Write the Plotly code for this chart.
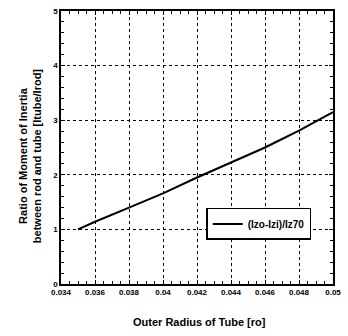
import plotly.graph_objects as go

x_vals = [0.035, 0.036, 0.038, 0.040, 0.042, 0.044, 0.046, 0.048, 0.050]
y_vals = [1.00, 1.14, 1.40, 1.66, 1.95, 2.22, 2.50, 2.81, 3.15]
series_name = "(Izo-Izi)/Iz70"
x_ticks = [0.034, 0.036, 0.038, 0.04, 0.042, 0.044, 0.046, 0.048, 0.05]
x_tick_text = ["0.034", "0.036", "0.038", "0.04", "0.042", "0.044", "0.046", "0.048", "0.05"]
y_ticks = [0, 1, 2, 3, 4, 5]

FONT = "Liberation Sans"

fig = go.Figure()
fig.add_trace(go.Scatter(x=x_vals, y=y_vals, mode="lines", name=series_name,
                         line=dict(color="black", width=2), showlegend=True))

axis_common = dict(showline=True, linecolor="black", linewidth=1.5, mirror="ticks",
                   ticks="inside", ticklen=4, tickcolor="black", tickwidth=1,
                   showgrid=True, gridcolor="black", griddash="dot", gridwidth=1,
                   zeroline=False,
                   tickfont=dict(family=FONT, size=8, color="black", weight="bold"))

fig.update_layout(
    width=348, height=336,
    margin=dict(l=61, r=7, t=8, b=52),
    paper_bgcolor="white", plot_bgcolor="white",
    xaxis=dict(range=[0.034, 0.05], tickvals=x_ticks, ticktext=x_tick_text,
               minor=dict(ticks="inside", ticklen=3, tickcolor="black", dtick=0.0005, showgrid=False),
               **axis_common),
    yaxis=dict(range=[0, 5], tickvals=y_ticks,
               minor=dict(ticks="inside", ticklen=3, tickcolor="black", dtick=0.2, showgrid=False),
               **axis_common),
    legend=dict(x=0.534, y=0.22, xanchor="left", yanchor="middle",
                bgcolor="white", bordercolor="black", borderwidth=1.5, itemwidth=30,
                font=dict(family=FONT, size=10, color="black", weight="bold")),
    showlegend=True,
)
fig.add_annotation(text="Outer Radius of Tube [ro]", xref="paper", yref="paper",
                   x=0.508, y=-0.138, xanchor="center", yanchor="middle", showarrow=False,
                   font=dict(family=FONT, size=11, color="black", weight="bold"))
fig.add_annotation(text="Ratio of Moment of Inertia<br>between rod and tube [Itube/Irod]",
                   xref="paper", yref="paper", x=-0.116, y=0.47, xanchor="center", yanchor="middle",
                   showarrow=False, textangle=-90,
                   font=dict(family=FONT, size=11, color="black", weight="bold"))

fig.write_html("out.html", config={"displayModeBar": False},
               post_script="document.body.style.margin='0';")
